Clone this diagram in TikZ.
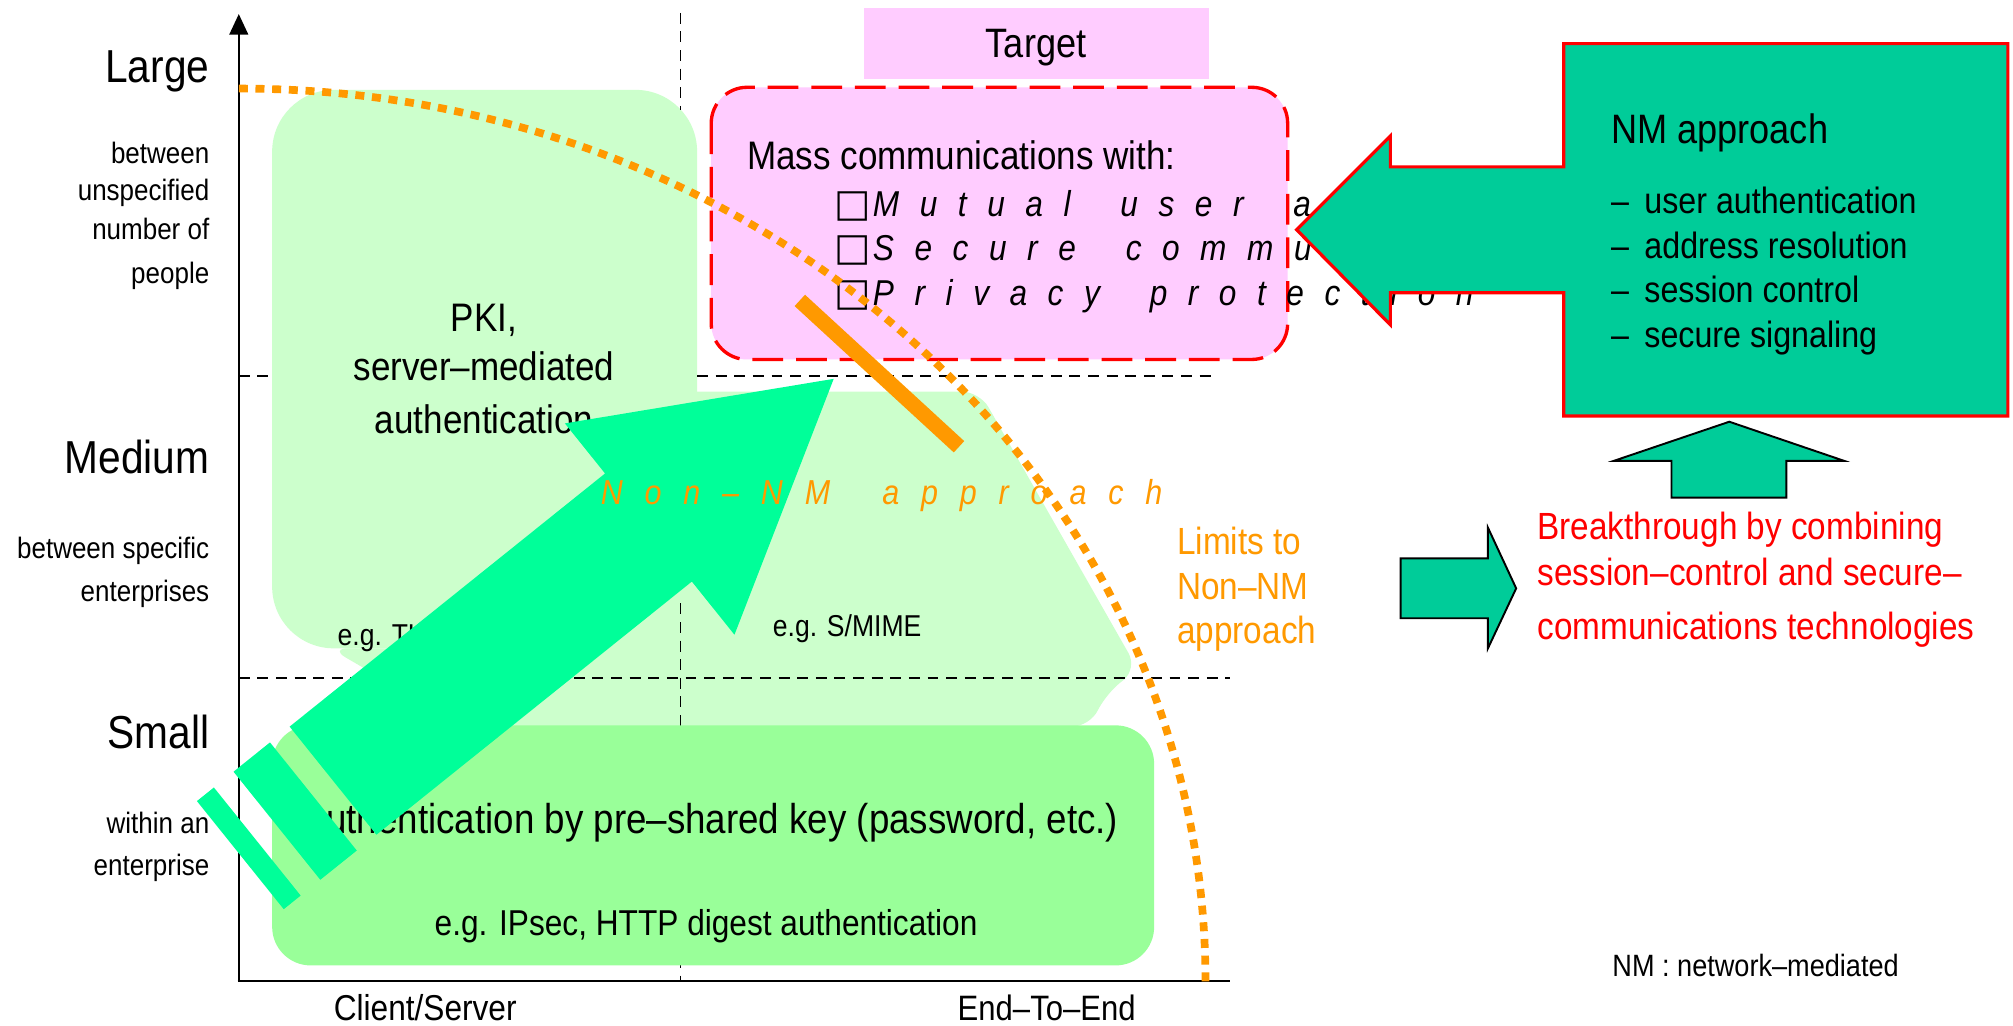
\documentclass[tikz,border=0pt]{standalone}
\usepackage{fontspec}
\setmainfont{Liberation Sans}[FakeStretch=0.88]
\newfontfamily\boxglyphs{DejaVu Sans}
\definecolor{paleGreen}{HTML}{CCFFCC}
\definecolor{keyGreen}{HTML}{99FF99}
\definecolor{springGreen}{HTML}{00FF99}
\definecolor{nmTeal}{HTML}{00CC99}
\definecolor{targetPink}{HTML}{FFCCFF}
\definecolor{limitOrange}{HTML}{FF9900}
\newcommand\fsz[1]{\fontsize{#1pt}{#1pt}\selectfont}
\ExplSyntaxOn
\NewDocumentCommand\tracked{mm}{\str_map_inline:nn{#2}{##1\hspace{#1}}}
\ExplSyntaxOff
\tikzset{
  lbl/.style={inner sep=0pt, outer sep=0pt},
  grid/.style={line width=1.3pt, dash pattern=on 8.5pt off 6pt},
  axisline/.style={line width=2pt},
  shapeborder/.style={line width=1.5pt, draw=black, fill=nmTeal},
}
\begin{document}
\begin{tikzpicture}[x=1pt,y=-1pt]
\useasboundingbox (0,0) rectangle (1568,799);
\fill[white] (0,0) rectangle (1568,799);

% ---- light green regions (server-mediated / end-to-end) ----
\fill[paleGreen, rounded corners=14pt] (400,305) -- (763,305) -- (886,521) -- (861,541)
  -- (849,566) -- (320,566) -- (300,530) -- (257,505) -- (400,505) -- cycle;
\fill[paleGreen, rounded corners=48pt] (212,70) rectangle (543,505);

% ---- grid lines ----
\draw[grid] (530,10) -- (530,86);
\draw[grid] (530,470) -- (530,764);
\draw[grid] (186,293) -- (212,293);
\draw[grid] (543,293) -- (945,293);
\draw[grid] (186,528) -- (958,528);

% ---- pre-shared key region ----
\fill[keyGreen, rounded corners=30pt] (212,565) rectangle (899,752);

% ---- target ----
\fill[targetPink] (673,6.5) rectangle (941.5,61.5);
\node[lbl, anchor=base] (target) at (807,45) {\fsz{32}Target};
\draw[red, line width=2.6pt, dash pattern=on 24pt off 10pt, fill=targetPink, rounded corners=28pt]
  (554,68) rectangle (1003,280);

% ---- axes ----
\coordinate (origin) at (186,764);
\coordinate (ytop) at (186,24);
\coordinate (xend) at (958,764);
\draw[axisline] (origin) -- (ytop);
\draw[axisline] ([xshift=-1pt]origin) -- (xend);
\fill (186,11) -- (193.5,27) -- (178.5,27) -- cycle;

% ---- axis labels ----
\node[lbl, anchor=base east] (large) at (163,64) {\fsz{36}Large};
\node[lbl, anchor=base east] (largeA) at (163,127.7) {\fsz{23}between};
\node[lbl, anchor=base east] (largeB) at (163,155.8) {\fsz{23}unspecified};
\node[lbl, anchor=base east] (largeC) at (163,186.4) {\fsz{23}number of};
\node[lbl, anchor=base east] (largeD) at (163,220.6) {\fsz{23}people};
\node[lbl, anchor=base east] (medium) at (163,368.7) {\fsz{36}Medium};
\node[lbl, anchor=base east] (mediumA) at (163,434.9) {\fsz{23}between specific};
\node[lbl, anchor=base east] (mediumB) at (163,468.7) {\fsz{23}enterprises};
\node[lbl, anchor=base east] (small) at (163,583) {\fsz{36}Small};
\node[lbl, anchor=base east] (smallA) at (163,649) {\fsz{23}within an};
\node[lbl, anchor=base east] (smallB) at (163,682.3) {\fsz{23}enterprise};
\node[lbl, anchor=base west] (cs) at (260,795) {\fsz{28}Client/Server};
\node[lbl, anchor=base west] (e2e) at (746,795) {\fsz{27.5}End–To–End};

% ---- region texts ----
\node[lbl, anchor=base] (pkiA) at (377,258) {\fsz{31}PKI,};
\node[lbl, anchor=base] (pkiB) at (377,296) {\fsz{31}server–mediated};
\node[lbl, anchor=base] (pkiC) at (377,337.6) {\fsz{31}authentication};
\node[lbl, anchor=base west] (tls) at (263,503) {\fsz{23.5}e.g. TLS};
\node[lbl, anchor=base west] (smime) at (602,496) {\fsz{23.5}e.g. S/MIME};
\node[lbl, anchor=base] (psk) at (553,649) {\fsz{32.5}Authentication by pre–shared key (password, etc.)};
\node[lbl, anchor=base] (ipsec) at (550,729) {\fsz{28}e.g. IPsec, HTTP digest authentication};

% ---- target contents ----
\node[lbl, anchor=base west] (mass) at (582,132) {\fsz{31}Mass communications with:};
\node[lbl, anchor=base west] (boxA) at (650,169) {\boxglyphs\fsz{30}□};
\node[lbl, anchor=base west] (boxB) at (650,203) {\boxglyphs\fsz{30}□};
\node[lbl, anchor=base west] (boxC) at (650,238) {\boxglyphs\fsz{30}□};
\node[lbl, anchor=base west] (goalA) at (680,169) {\fsz{28}\itshape\tracked{16pt}{Mutual user au}};
\node[lbl, anchor=base west] (goalB) at (680,203) {\fsz{28}\itshape\tracked{16pt}{Secure commun}};
\node[lbl, anchor=base west] (goalC) at (680,238) {\fsz{28}\itshape\tracked{16pt}{Privacy protection}};

% ---- limits of the non-NM approach ----
\draw[limitOrange, line width=12pt] (623,234) -- (747,348);
\draw[limitOrange, line width=6pt, dash pattern=on 7pt off 6pt]
  (186,69) arc[start angle=90, end angle=0, x radius=753pt, y radius=696pt];

% ---- non-NM arrow with tail stripes ----
\fill[springGreen] (225.6,566) -- (471.3,368.8) -- (440,329.8) -- (649.4,295.1)
  -- (572.1,494.4) -- (538.9,453) -- (293.2,650.2) -- cycle;
\fill[springGreen] (210.3,578.3) -- (181.9,601.1) -- (249.5,685.3) -- (277.9,662.5) -- cycle;
\fill[springGreen] (166.6,613.4) -- (153.4,624) -- (221,708.2) -- (234.2,697.6) -- cycle;
\node[lbl, anchor=base west, text=limitOrange] (nonnm) at (468,393)
  {\fsz{27}\itshape\tracked{17pt}{Non–NM approach}};

\node[lbl, anchor=base west, text=limitOrange] (limA) at (917,432) {\fsz{29.5}Limits to};
\node[lbl, anchor=base west, text=limitOrange] (limB) at (917,467) {\fsz{29.5}Non–NM};
\node[lbl, anchor=base west, text=limitOrange] (limC) at (917,501) {\fsz{29.5}approach};

% ---- NM approach box with its arrow ----
\draw[draw=red, line width=2.5pt, fill=nmTeal] (1010,179) -- (1083,106) -- (1083,130) -- (1218,130)
  -- (1218,34) -- (1564,34) -- (1564,324) -- (1218,324) -- (1218,228) -- (1083,228)
  -- (1083,253) -- cycle;
\node[lbl, anchor=base west] (nmtitle) at (1255,111.6) {\fsz{32}NM approach};
\node[lbl, anchor=base west] (nmA) at (1255,166) {\fsz{28.5}–\hspace{12pt}user authentication};
\node[lbl, anchor=base west] (nmB) at (1255,201) {\fsz{28.5}–\hspace{12pt}address resolution};
\node[lbl, anchor=base west] (nmC) at (1255,236) {\fsz{28.5}–\hspace{12pt}session control};
\node[lbl, anchor=base west] (nmD) at (1255,271) {\fsz{28.5}–\hspace{12pt}secure signaling};

% ---- breakthrough ----
\draw[shapeborder] (1347,328.5) -- (1436.5,359) -- (1391.5,359) -- (1391.5,387.6)
  -- (1302,387.6) -- (1302,359) -- (1257,359) -- cycle;
\draw[shapeborder] (1091,435) -- (1159,435) -- (1159,411) -- (1181,458.3) -- (1159,505)
  -- (1159,481.6) -- (1091,481.6) -- cycle;
\node[lbl, anchor=base west, text=red] (brA) at (1197.6,420.6) {\fsz{29.5}Breakthrough by combining};
\node[lbl, anchor=base west, text=red] (brB) at (1197.6,455.7) {\fsz{29.5}session–control and secure–};
\node[lbl, anchor=base west, text=red] (brC) at (1197.6,498) {\fsz{29.5}communications technologies};

\node[lbl, anchor=base west] (legend) at (1256,761) {\fsz{24}NM : network–mediated};
\end{tikzpicture}
\end{document}
